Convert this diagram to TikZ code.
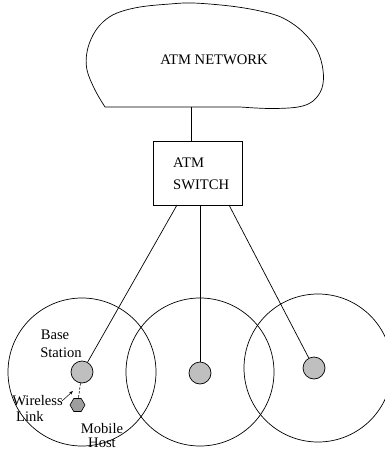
\documentclass[tikz,border=0pt]{standalone}
\usepackage{fontspec}
\setmainfont{Liberation Serif}
\usetikzlibrary{shapes.geometric,arrows.meta}
\tikzset{
  lbl/.style={inner sep=0pt, font=\fontsize{14.6}{17}\selectfont},
  cell/.style={circle, draw, line width=0.7pt, minimum size=148pt, inner sep=0pt},
  basest/.style={circle, draw, line width=0.7pt, fill=black!25, minimum size=22pt, inner sep=0pt},
  mobile/.style={regular polygon, regular polygon sides=6, draw, line width=0.6pt,
                 fill=black!38, minimum size=15pt, inner sep=0pt},
  wire/.style={line width=0.7pt}
}
\begin{document}
\begin{tikzpicture}[x=1pt, y=-1pt]
  \useasboundingbox (0,0) rectangle (385,450);

  % cloud standing for the ATM network
  \draw[wire] plot[smooth, tension=0.6] coordinates {
      (240,107) (270,108.5) (298,107) (313,101) (322,88) (323,70) (317,50)
      (303,32) (283,18) (260,11) (230,6) (193,3) (170,4) (140,7) (117,13)
      (103,22) (93,35) (87,52) (87,70) (95,90) (105,107)} -- cycle;
  \node[lbl] (net) at (214,60) {ATM NETWORK};
  \coordinate (netfoot) at (191,107);

  % switch
  \node[draw, line width=0.7pt, minimum width=89pt, minimum height=64pt,
        inner sep=0pt] (sw) at (197.5,173) {};
  \node[lbl, anchor=west] (swa) at (173,163) {ATM};
  \node[lbl, anchor=west] (swb) at (173,185) {SWITCH};
  \draw[wire] (netfoot) -- (sw.north -| netfoot);

  % radio cells
  \node[cell] (c1) at (82,372) {};
  \node[cell] (c2) at (200,372) {};
  \node[cell] (c3) at (318,368) {};

  % base stations
  \node[basest] (b1) at (82,372) {};
  \node[basest] (b2) at (200,373) {};
  \node[basest] (b3) at (314,368) {};

  % feeders from the switch
  \coordinate (s1) at (177,205);
  \coordinate (s2) at (200,205);
  \coordinate (s3) at (229,205);
  \draw[wire] (s1) -- (b1);
  \draw[wire] (s2) -- (b2);
  \draw[wire] (s3) -- (b3);

  % mobile host and its wireless link
  \node[mobile] (mh) at (77.5,405) {};
  \draw[line width=0.6pt, dash pattern=on 2.5pt off 1.5pt] (b1) -- (mh);
  \coordinate (linktail) at (62,401);
  \coordinate (linkhead) at (73,391);
  \draw[line width=0.5pt, -{Stealth[length=4pt, width=3pt]}] (linktail) -- (linkhead);

  % labels
  \node[lbl] (bs1) at (55,335) {Base};
  \node[lbl] (bs2) at (61,353) {Station};
  \node[lbl] (wl1) at (37.5,401) {Wireless};
  \node[lbl] (wl2) at (30,416) {Link};
  \node[lbl, align=center, font=\fontsize{14.6}{14}\selectfont]
        (mhl) at (102,435.5) {Mobile\\Host};
\end{tikzpicture}
\end{document}
